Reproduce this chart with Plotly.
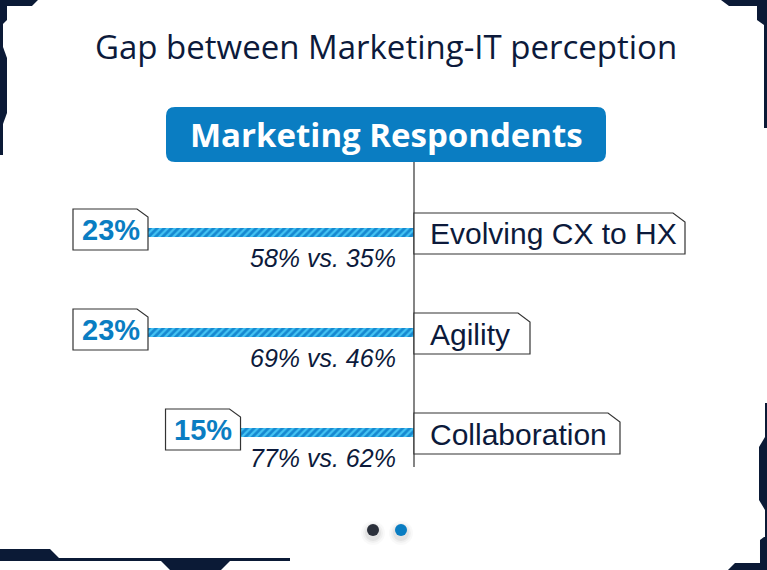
import plotly.graph_objects as go

W, H = 767, 570

# ---------------- data ----------------
title_text = "Gap between Marketing-IT perception"
header_text = "Marketing Respondents"
categories = ["Evolving CX to HX", "Agility", "Collaboration"]
gap_values = [23, 23, 15]
marketing_values = [58, 69, 77]
it_values = [35, 46, 62]

# ---------------- style ----------------
NAVY = "#0c1a3b"
BLUE = "#0a7dc2"
LINE = "#333333"
ZERO_PX = 414           # pixel position of the zero line
PX_PER_UNIT = 266 / 23  # horizontal scale
ROW0_PX = 232           # pixel centre of first row
ROW_STEP = 100          # pixels between rows
VALUE_BOX_W = 75
LABEL_BOX_W = [271, 116, 206]


def fx(x):
    return x / W


def fy(y):
    return 1 - y / H


def ppath(points):
    return "M " + " L ".join(f"{fx(x):.5f},{fy(y):.5f}" for x, y in points) + " Z"


fig = go.Figure()

fig.add_trace(go.Bar(
    x=[-v for v in gap_values],
    y=categories,
    orientation="h",
    width=0.09,
    marker=dict(
        color="#1a8fd6",
        line=dict(width=0),
        pattern=dict(shape="/", fgcolor="#45c3f3", bgcolor="#1689d0", size=5, solidity=0.45,
                      fillmode="replace"),
    ),
    hoverinfo="skip",
    showlegend=False,
))

shapes = []
annotations = []

# decorative frame
frame_polys = [
    # top-left
    [(0, 0), (38, 0), (32, 6), (7, 6), (7, 20), (3, 24), (3, 155), (0, 155)],
    [(0, 47), (3, 47), (7, 58), (7, 113), (3, 124), (0, 124)],
    # top-right
    [(721, 0), (767, 0), (767, 128), (764, 128), (764, 25), (757, 20), (757, 6), (729, 6)],
    # bottom-right
    [(765, 403), (767, 403), (767, 570), (765, 570)],
    [(765, 437), (767, 437), (767, 510), (765, 510), (759, 500), (759, 447)],
    [(728, 570), (735, 563), (760, 563), (760, 540), (764, 537), (767, 537), (767, 570)],
    # bottom-left
    [(0, 549), (50, 549), (59, 558), (290, 558), (290, 561), (0, 561)],
    [(160, 560), (231, 560), (221, 570), (170, 570)],
]
for poly in frame_polys:
    shapes.append(dict(type="path", xref="paper", yref="paper", path=ppath(poly),
                       fillcolor="#0b1a36", line=dict(width=0), layer="above"))

# header rounded box
x0, y0, x1, y1, r = 166, 107, 606, 162, 9
hdr = (f"M {fx(x0 + r):.5f},{fy(y0):.5f} L {fx(x1 - r):.5f},{fy(y0):.5f} "
       f"Q {fx(x1):.5f},{fy(y0):.5f} {fx(x1):.5f},{fy(y0 + r):.5f} "
       f"L {fx(x1):.5f},{fy(y1 - r):.5f} Q {fx(x1):.5f},{fy(y1):.5f} {fx(x1 - r):.5f},{fy(y1):.5f} "
       f"L {fx(x0 + r):.5f},{fy(y1):.5f} Q {fx(x0):.5f},{fy(y1):.5f} {fx(x0):.5f},{fy(y1 - r):.5f} "
       f"L {fx(x0):.5f},{fy(y0 + r):.5f} Q {fx(x0):.5f},{fy(y0):.5f} {fx(x0 + r):.5f},{fy(y0):.5f} Z")
shapes.append(dict(type="path", xref="paper", yref="paper", path=hdr, fillcolor=BLUE,
                   line=dict(width=0)))
annotations.append(dict(x=fx(386), y=fy(134), xref="paper", yref="paper", text=f"<b>{header_text}</b>",
                        showarrow=False, font=dict(family="Open Sans", size=33, color="white"),
                        xanchor="center", yanchor="middle"))

# title
annotations.append(dict(x=fx(386), y=fy(46), xref="paper", yref="paper", text=title_text,
                        showarrow=False, font=dict(family="Open Sans", size=33, color=NAVY),
                        xanchor="center", yanchor="middle"))

# vertical axis line
shapes.append(dict(type="line", xref="paper", yref="paper", x0=fx(414), x1=fx(414),
                   y0=fy(162), y1=fy(467), line=dict(color=LINE, width=1.2)))

unit = 1 / PX_PER_UNIT
for i, (cat, g, m, it) in enumerate(zip(categories, gap_values, marketing_values, it_values)):
    c = ROW0_PX + i * ROW_STEP
    # value box (right edge at end of bar, in data units)
    xr = -g
    xl = -g - VALUE_BOX_W * unit
    top, bot = c - 23, c + 18
    p = (f"M {xl:.4f},{fy(top):.5f} L {xr - 11 * unit:.4f},{fy(top):.5f} "
         f"L {xr:.4f},{fy(top + 8):.5f} L {xr:.4f},{fy(bot):.5f} L {xl:.4f},{fy(bot):.5f} Z")
    shapes.append(dict(type="path", xref="x", yref="paper", path=p, fillcolor="white",
                       line=dict(color=LINE, width=1.2), layer="above"))
    annotations.append(dict(x=(xl + xr) / 2, y=fy(c - 2.5), xref="x", yref="paper",
                            text=f"<b>{g}%</b>", showarrow=False,
                            font=dict(family="Liberation Sans", size=29, color=BLUE),
                            xanchor="center", yanchor="middle"))
    # label box
    lw = LABEL_BOX_W[i]
    lt, lb = c - 19, c + 22
    lx0, lx1 = ZERO_PX, ZERO_PX + lw
    shapes.append(dict(type="path", xref="paper", yref="paper",
                       path=ppath([(lx0, lt), (lx1 - 12, lt), (lx1, lt + 9), (lx1, lb), (lx0, lb)]),
                       fillcolor="white", line=dict(color=LINE, width=1.2), layer="above"))
    annotations.append(dict(x=fx(lx0 + 14), y=fy(c + 2), xref="paper", yref="paper",
                            text=cat, showarrow=False,
                            font=dict(family="Liberation Sans", size=30, color=NAVY),
                            xanchor="left", yanchor="middle"))
    # comparison text
    annotations.append(dict(x=fx(398), y=fy(c + 26), xref="paper", yref="paper",
                            text=f"<i>{m}% vs. {it}%</i>", showarrow=False,
                            font=dict(family="Liberation Sans", size=25, color=NAVY),
                            xanchor="right", yanchor="middle"))

# pager dots with soft shadow
for cx, col in [(373, "#2b303b"), (401, BLUE)]:
    for rr, a in [(12, 0.025), (10, 0.035), (8, 0.05)]:
        shapes.append(dict(type="circle", xref="paper", yref="paper",
                           x0=fx(cx - rr), x1=fx(cx + rr), y0=fy(533 - rr), y1=fy(533 + rr),
                           fillcolor=f"rgba(0,0,0,{a})", line=dict(width=0)))
    shapes.append(dict(type="circle", xref="paper", yref="paper",
                       x0=fx(cx - 6), x1=fx(cx + 6), y0=fy(524), y1=fy(536),
                       fillcolor=col, line=dict(width=0)))

fig.update_layout(
    width=W, height=H,
    margin=dict(l=0, r=0, t=0, b=0),
    paper_bgcolor="white", plot_bgcolor="white",
    xaxis=dict(range=[-ZERO_PX / PX_PER_UNIT, (W - ZERO_PX) / PX_PER_UNIT], visible=False, fixedrange=True),
    yaxis=dict(type="category", categoryorder="array", categoryarray=categories,
               range=[(H - ROW0_PX) / ROW_STEP, -ROW0_PX / ROW_STEP], visible=False, fixedrange=True),
    shapes=shapes,
    annotations=annotations,
    bargap=0,
)

fig.write_html("out.html", config={"displayModeBar": False},
               post_script="document.body.style.margin='0px';document.body.style.overflow='hidden';")
